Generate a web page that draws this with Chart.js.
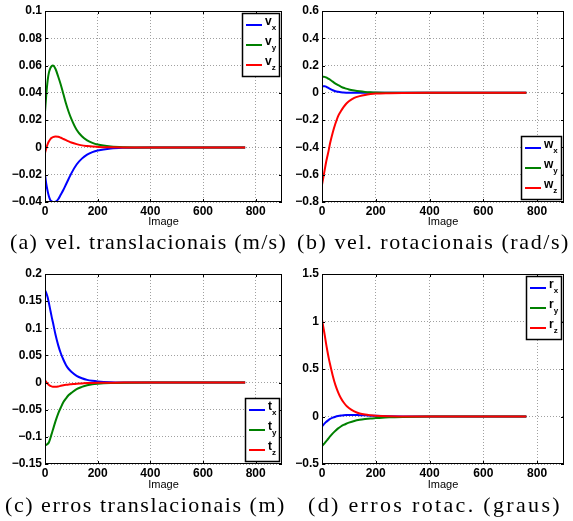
<!DOCTYPE html>
<html lang="pt">
<head>
<meta charset="UTF-8">
<title>Velocidades e erros</title>
<script src="https://cdn.jsdelivr.net/npm/chart.js"></script>
<style>
  body { margin: 0; padding: 0; background: #fff; width: 573px; height: 521px; position: relative; overflow: hidden; }
  canvas { position: absolute; }
  .caption { position: absolute; font-family: 'Liberation Serif', 'Times New Roman', serif; font-size: 22px; line-height: 22px; white-space: nowrap; color: #000; }
</style>
</head>
<body>
<canvas id="chartA" width="290" height="230" style="left:0;top:0"></canvas>
<canvas id="chartB" width="290" height="230" style="left:283px;top:0"></canvas>
<canvas id="chartC" width="290" height="233" style="left:0;top:260px"></canvas>
<canvas id="chartD" width="290" height="233" style="left:283px;top:260px"></canvas>

<div class="caption" data-w="277" style="left:10px;top:231px">(a) vel. translacionais (m/s)</div>
<div class="caption" data-w="273" style="left:297px;top:231px">(b) vel. rotacionais (rad/s)</div>
<div class="caption" data-w="281" style="left:5px;top:494px">(c) erros translacionais (m)</div>
<div class="caption" data-w="254" style="left:308px;top:494px">(d) erros rotac. (graus)</div>

<script>
// image index where the values were read
const frames = [0, 5, 10, 15, 20, 25, 30, 40, 50, 60, 70, 80, 90, 100, 120, 140, 160, 180, 200, 250, 300, 400, 760];
const xTicks = [0, 200, 400, 600, 800];

// (a) translational velocities (m/s)
const vx = [-0.020, -0.027, -0.032, -0.036, -0.0385, -0.0395, -0.040, -0.0398, -0.038, -0.0345, -0.031, -0.027, -0.023, -0.019, -0.0125, -0.0082, -0.0053, -0.0034, -0.0022, -0.0007, -0.0002, 0, 0];
const vy = [0.026, 0.039, 0.049, 0.055, 0.058, 0.0595, 0.060, 0.0575, 0.052, 0.046, 0.039, 0.032, 0.026, 0.021, 0.013, 0.0082, 0.0052, 0.0033, 0.0021, 0.0007, 0.0002, 0, 0];
const vz = [-0.004, -0.0005, 0.0025, 0.0045, 0.006, 0.007, 0.0076, 0.008, 0.0078, 0.0071, 0.0062, 0.0053, 0.0044, 0.0036, 0.0024, 0.0015, 0.001, 0.0006, 0.0004, 0.0001, 0, 0, 0];
const yTicksA = [-0.04, -0.02, 0, 0.02, 0.04, 0.06, 0.08, 0.1];

// (b) rotational velocities (rad/s)
const wx = [0.047, 0.048, 0.049, 0.046, 0.040, 0.034, 0.029, 0.019, 0.012, 0.0075, 0.004, 0.0025, 0.0015, 0.001, 0.0004, 0, 0, 0, 0, 0, 0, 0, 0];
const wy = [0.118, 0.118, 0.117, 0.113, 0.108, 0.102, 0.096, 0.082, 0.068, 0.056, 0.046, 0.037, 0.031, 0.025, 0.017, 0.011, 0.007, 0.0045, 0.0028, 0.001, 0.0003, 0, 0];
const wz = [-0.675, -0.62, -0.565, -0.51, -0.465, -0.42, -0.37, -0.29, -0.225, -0.17, -0.135, -0.105, -0.08, -0.062, -0.037, -0.024, -0.015, -0.009, -0.005, -0.002, -0.0005, 0, 0];
const yTicksB = [-0.8, -0.6, -0.4, -0.2, 0, 0.2, 0.4, 0.6];

// (c) translational errors (m)
const tx = [0.170, 0.165, 0.157, 0.146, 0.134, 0.122, 0.111, 0.088, 0.069, 0.054, 0.042, 0.032, 0.025, 0.020, 0.0125, 0.008, 0.005, 0.0033, 0.0022, 0.0008, 0.0003, 0, 0];
const ty = [-0.115, -0.1145, -0.113, -0.110, -0.103, -0.095, -0.087, -0.071, -0.057, -0.046, -0.036, -0.029, -0.023, -0.019, -0.012, -0.008, -0.005, -0.003, -0.002, -0.0007, -0.0002, 0, 0];
const tz = [0.004, 0.001, -0.002, -0.0045, -0.006, -0.007, -0.0075, -0.0078, -0.0072, -0.006, -0.005, -0.0042, -0.0035, -0.003, -0.002, -0.0015, -0.001, -0.0007, -0.0005, -0.0002, 0, 0, 0];
const yTicksC = [-0.15, -0.1, -0.05, 0, 0.05, 0.1, 0.15, 0.2];

// (d) rotational errors (graus)
const rx = [-0.105, -0.088, -0.072, -0.058, -0.046, -0.035, -0.026, -0.012, -0.002, 0.005, 0.010, 0.013, 0.015, 0.016, 0.016, 0.014, 0.012, 0.009, 0.007, 0.003, 0.001, 0, 0];
const ry = [-0.31, -0.295, -0.28, -0.262, -0.245, -0.228, -0.21, -0.178, -0.15, -0.125, -0.105, -0.089, -0.076, -0.065, -0.047, -0.035, -0.027, -0.021, -0.017, -0.008, -0.004, -0.001, 0];
const rz = [1.02, 0.94, 0.86, 0.77, 0.69, 0.615, 0.55, 0.43, 0.33, 0.255, 0.195, 0.15, 0.115, 0.09, 0.054, 0.032, 0.02, 0.013, 0.008, 0.003, 0.001, 0, 0];
const yTicksD = [-0.5, 0, 0.5, 1, 1.5];

const colors = ['#0000ff', '#008000', '#ff0000'];

function fmt(v) {
  return String(parseFloat(v.toFixed(6))).replace('-', '\u2212');
}

// box, inward ticks and matlab-style legend
const matlabAxes = {
  id: 'matlabAxes',
  afterDatasetsDraw(chart, args, opts) {
    const ctx = chart.ctx;
    const a = chart.chartArea;
    const x = chart.scales.x, y = chart.scales.y;
    ctx.save();
    ctx.strokeStyle = '#000';
    ctx.lineWidth = 1;
    ctx.strokeRect(Math.round(a.left) + 0.5, Math.round(a.top) + 0.5, Math.round(a.width) - 1, Math.round(a.height) - 1);
    ctx.beginPath();
    x.ticks.forEach(t => {
      const px = Math.round(x.getPixelForValue(t.value)) + 0.5;
      ctx.moveTo(px, a.bottom); ctx.lineTo(px, a.bottom - 3);
      ctx.moveTo(px, a.top); ctx.lineTo(px, a.top + 3);
    });
    y.ticks.forEach(t => {
      const py = Math.round(y.getPixelForValue(t.value)) + 0.5;
      ctx.moveTo(a.left, py); ctx.lineTo(a.left + 3, py);
      ctx.moveTo(a.right, py); ctx.lineTo(a.right - 3, py);
    });
    ctx.stroke();

    // legend
    const sets = chart.data.datasets;
    let textW = 0;
    sets.forEach(ds => {
      const [m, s] = ds.label.split('_');
      ctx.font = 'bold 12px "Liberation Sans", Arial, sans-serif';
      let w = ctx.measureText(m).width;
      ctx.font = 'bold 8px "Liberation Sans", Arial, sans-serif';
      w += ctx.measureText(s).width;
      textW = Math.max(textW, w);
    });
    const bw = Math.round(3 + 16 + 4 + textW + 3), bh = 63;
    const bx = Math.round(a.right) - 3 - bw;
    const by = opts.position === 'se' ? Math.round(a.bottom) - 3 - bh : Math.round(a.top) + 2;
    ctx.fillStyle = '#fff';
    ctx.fillRect(bx, by, bw, bh);
    ctx.lineWidth = 1.5;
    ctx.strokeRect(bx + 0.5, by + 0.5, bw, bh);
    sets.forEach((ds, i) => {
      const ly = by + 12 + i * 20;
      ctx.strokeStyle = ds.borderColor;
      ctx.lineWidth = 2;
      ctx.beginPath();
      ctx.moveTo(bx + 4, ly); ctx.lineTo(bx + 20, ly);
      ctx.stroke();
      const [m, s] = ds.label.split('_');
      ctx.fillStyle = '#000';
      ctx.textBaseline = 'alphabetic';
      ctx.textAlign = 'left';
      ctx.font = 'bold 12px "Liberation Sans", Arial, sans-serif';
      ctx.fillText(m, bx + 23, ly);
      const mw = ctx.measureText(m).width;
      ctx.font = 'bold 8px "Liberation Sans", Arial, sans-serif';
      ctx.fillText(s, bx + 23 + mw, ly + 5);
    });
    ctx.restore();
  }
};

function makeChart(id, series, labels, yTicks, padding, yWidth, xHeight, legendPos) {
  return new Chart(document.getElementById(id), {
    type: 'line',
    data: {
      datasets: series.map((s, i) => ({
        label: labels[i],
        data: frames.map((f, j) => ({ x: f, y: s[j] })),
        borderColor: colors[i],
        borderWidth: 2,
        pointRadius: 0,
        fill: false,
        cubicInterpolationMode: 'monotone',
        order: series.length - i
      }))
    },
    options: {
      responsive: false,
      animation: false,
      layout: { padding: padding },
      plugins: {
        legend: { display: false },
        tooltip: { enabled: false },
        matlabAxes: { position: legendPos }
      },
      scales: {
        x: {
          type: 'linear',
          min: 0,
          max: 900,
          afterBuildTicks: s => { s.ticks = xTicks.map(v => ({ value: v })); },
          afterFit: s => { s.height = xHeight; s.paddingLeft = 0; s.paddingRight = 0; },
          ticks: {
            maxRotation: 0,
            padding: 2,
            color: '#000',
            font: { family: 'Liberation Sans', size: 12, weight: 'bold' },
            callback: v => fmt(v)
          },
          grid: { color: '#a0a0a0', drawTicks: false },
          border: { display: false, dash: [1, 2] },
          title: {
            display: true,
            text: 'Image',
            color: '#000',
            padding: { top: 0, bottom: 1 },
            font: { family: 'Liberation Sans', size: 11 }
          }
        },
        y: {
          type: 'linear',
          min: yTicks[0],
          max: yTicks[yTicks.length - 1],
          afterBuildTicks: s => { s.ticks = yTicks.map(v => ({ value: v })); },
          afterFit: s => { s.width = yWidth; s.paddingTop = 0; s.paddingBottom = 0; },
          ticks: {
            padding: 3,
            color: '#000',
            font: { family: 'Liberation Sans', size: 12, weight: 'bold' },
            callback: v => fmt(v)
          },
          grid: { color: '#a0a0a0', drawTicks: false },
          border: { display: false, dash: [1, 2] }
        }
      }
    },
    plugins: [matlabAxes]
  });
}

makeChart('chartA', [vx, vy, vz], ['v_x', 'v_y', 'v_z'], yTicksA, { top: 11, right: 8, left: 0, bottom: 0 }, 45, 28, 'ne');
makeChart('chartB', [wx, wy, wz], ['w_x', 'w_y', 'w_z'], yTicksB, { top: 11, right: 9, left: 0, bottom: 0 }, 39, 28, 'se');
makeChart('chartC', [tx, ty, tz], ['t_x', 't_y', 't_z'], yTicksC, { top: 14, right: 8, left: 0, bottom: 0 }, 45, 29, 'se');
makeChart('chartD', [rx, ry, rz], ['r_x', 'r_y', 'r_z'], yTicksD, { top: 14, right: 9, left: 0, bottom: 0 }, 39, 29, 'ne');

// stretch the captions to the width they have in the figure
document.querySelectorAll('.caption').forEach(el => {
  const target = +el.dataset.w;
  const n = el.textContent.length;
  const w = el.getBoundingClientRect().width;
  el.style.letterSpacing = ((target - w) / n) + 'px';
});
</script>
</body>
</html>
